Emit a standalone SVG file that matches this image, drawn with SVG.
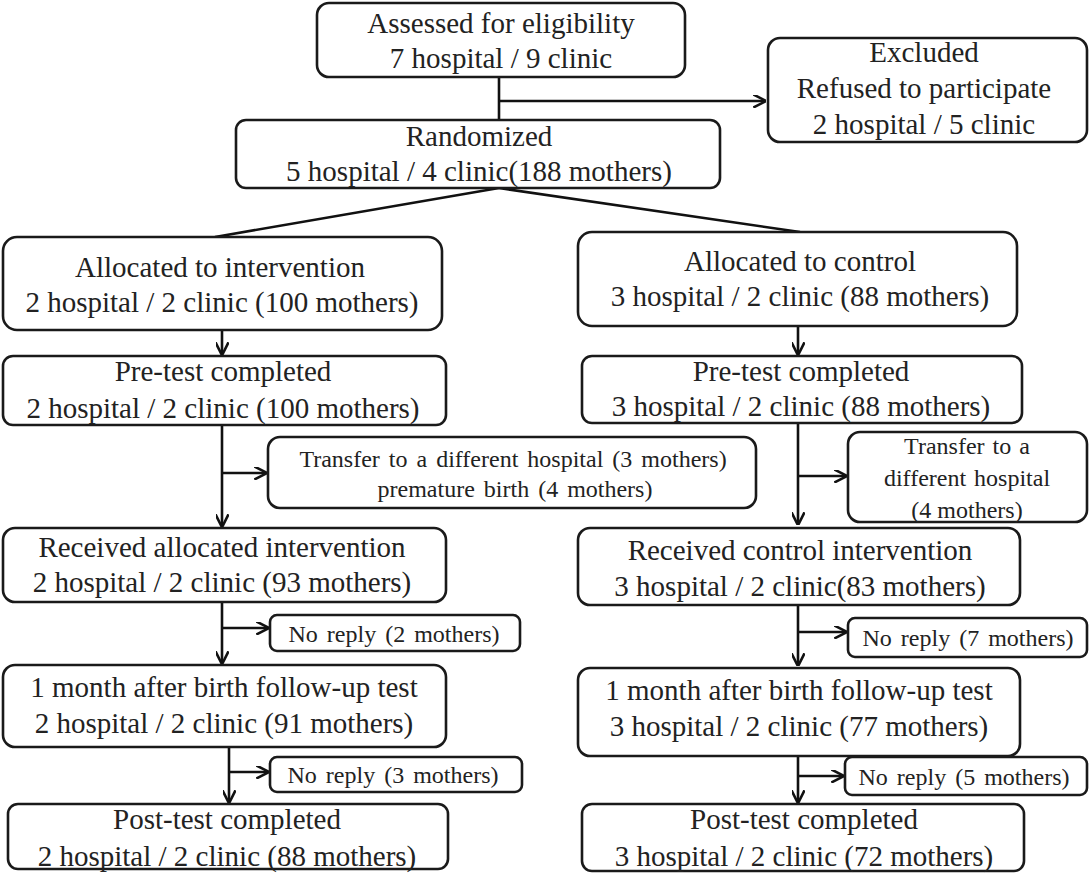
<svg xmlns="http://www.w3.org/2000/svg" width="1092" height="873" viewBox="0 0 1092 873">
<style>
.box{fill:#fff;stroke:#1a1a1a;stroke-width:2.6}
.t{font-size:29px;fill:#222;text-anchor:middle}
.s{font-size:24px;fill:#222;text-anchor:middle}
.c{stroke:#111;stroke-width:2.6;fill:none}
</style>
<defs>
<marker id="ah" viewBox="0 0 10 10" refX="9" refY="5" markerWidth="5" markerHeight="5" orient="auto" markerUnits="strokeWidth">
<path d="M0,0 L10,5 L0,10" fill="none" stroke="#111" stroke-width="2"/>
</marker>
</defs>
<rect width="1092" height="873" fill="#fff"/>
<g id="connectors">
<path class="c" d="M499,77 V120"/>
<path class="c" d="M499,101 H765" marker-end="url(#ah)"/>
<path class="c" d="M499,188 L215,237"/>
<path class="c" d="M499,188 L800,232"/>
<path class="c" d="M222,330 V354" marker-end="url(#ah)"/>
<path class="c" d="M222,425 V526" marker-end="url(#ah)"/>
<path class="c" d="M222,473 H266" marker-end="url(#ah)"/>
<path class="c" d="M222,602 V663" marker-end="url(#ah)"/>
<path class="c" d="M222,628 H268" marker-end="url(#ah)"/>
<path class="c" d="M229,747 V802" marker-end="url(#ah)"/>
<path class="c" d="M229,772 H268" marker-end="url(#ah)"/>
<path class="c" d="M798,326 V354" marker-end="url(#ah)"/>
<path class="c" d="M798,423 V524" marker-end="url(#ah)"/>
<path class="c" d="M798,476 H846" marker-end="url(#ah)"/>
<path class="c" d="M798,605 V665" marker-end="url(#ah)"/>
<path class="c" d="M798,632 H846" marker-end="url(#ah)"/>
<path class="c" d="M798,756 V802" marker-end="url(#ah)"/>
<path class="c" d="M798,776 H843" marker-end="url(#ah)"/>
</g>
<g font-family="Liberation Serif, serif">
<g id="assessed"><rect class="box" x="317" y="3" width="368" height="74" rx="12"/>
<text class="t" x="501" y="33">Assessed for eligibility</text><text class="t" x="501" y="68">7 hospital / 9 clinic</text></g>
<g id="excluded"><rect class="box" x="768" y="38" width="319" height="104" rx="12"/>
<text class="t" x="924" y="62">Excluded</text><text class="t" x="924" y="98">Refused to participate</text><text class="t" x="924" y="134">2 hospital / 5 clinic</text></g>
<g id="randomized"><rect class="box" x="236" y="120" width="484" height="68" rx="10"/>
<text class="t" x="479" y="146">Randomized</text><text class="t" x="479" y="181">5 hospital / 4 clinic(188 mothers)</text></g>
<g id="alloc-int"><rect class="box" x="3" y="237" width="439" height="93" rx="14"/>
<text class="t" x="220" y="277">Allocated to intervention</text><text class="t" x="222" y="312">2 hospital / 2 clinic (100 mothers)</text></g>
<g id="alloc-ctl"><rect class="box" x="578" y="232" width="439" height="94" rx="14"/>
<text class="t" x="800" y="271">Allocated to control</text><text class="t" x="800" y="306">3 hospital / 2 clinic (88 mothers)</text></g>
<g id="pre-int"><rect class="box" x="3" y="356" width="443" height="69" rx="10"/>
<text class="t" x="223" y="381">Pre-test completed</text><text class="t" x="223" y="418">2 hospital / 2 clinic (100 mothers)</text></g>
<g id="pre-ctl"><rect class="box" x="582" y="356" width="440" height="67" rx="10"/>
<text class="t" x="801" y="381">Pre-test completed</text><text class="t" x="801" y="416">3 hospital / 2 clinic (88 mothers)</text></g>
<g id="transfer-int"><rect class="box" x="268" y="437" width="488" height="71" rx="12"/>
<text class="s" x="513" y="467" word-spacing="3">Transfer  to a different hospital (3 mothers)</text><text class="s" x="515" y="497" word-spacing="3">premature birth (4 mothers)</text></g>
<g id="transfer-ctl"><rect class="box" x="848" y="432" width="239" height="90" rx="12"/>
<text class="s" x="967" y="454" word-spacing="2">Transfer  to a</text><text class="s" x="967" y="486" word-spacing="2">different hospital</text><text class="s" x="967" y="518">(4 mothers)</text></g>
<g id="recv-int"><rect class="box" x="3" y="528" width="443" height="74" rx="12"/>
<text class="t" x="222" y="557">Received allocated intervention</text><text class="t" x="222" y="592">2 hospital / 2 clinic (93 mothers)</text></g>
<g id="recv-ctl"><rect class="box" x="578" y="528" width="442" height="77" rx="12"/>
<text class="t" x="800" y="560">Received control intervention</text><text class="t" x="800" y="596">3 hospital / 2 clinic(83 mothers)</text></g>
<g id="noreply-int-1"><rect class="box" x="270" y="615" width="250" height="36" rx="7"/>
<text class="s" x="394" y="642" word-spacing="3">No reply  (2 mothers)</text></g>
<g id="noreply-ctl-1"><rect class="box" x="848" y="618" width="239" height="39" rx="7"/>
<text class="s" x="968" y="646" word-spacing="3">No reply  (7 mothers)</text></g>
<g id="month-int"><rect class="box" x="3" y="665" width="443" height="82" rx="12"/>
<text class="t" x="224" y="697">1 month after birth follow-up test</text><text class="t" x="224" y="733">2 hospital / 2 clinic (91 mothers)</text></g>
<g id="month-ctl"><rect class="box" x="578" y="668" width="442" height="88" rx="12"/>
<text class="t" x="799" y="700">1 month after birth follow-up test</text><text class="t" x="799" y="736">3 hospital / 2 clinic (77 mothers)</text></g>
<g id="noreply-int-2"><rect class="box" x="270" y="757" width="252" height="35" rx="7"/>
<text class="s" x="393" y="783" word-spacing="3">No reply  (3 mothers)</text></g>
<g id="noreply-ctl-2"><rect class="box" x="845" y="757" width="242" height="38" rx="7"/>
<text class="s" x="964" y="785" word-spacing="3">No reply  (5 mothers)</text></g>
<g id="post-int"><rect class="box" x="8" y="804" width="440" height="65" rx="10"/>
<text class="t" x="227" y="829">Post-test completed</text><text class="t" x="227" y="866">2 hospital / 2 clinic (88 mothers)</text></g>
<g id="post-ctl"><rect class="box" x="582" y="804" width="442" height="67" rx="10"/>
<text class="t" x="804" y="829">Post-test completed</text><text class="t" x="804" y="866">3 hospital / 2 clinic (72 mothers)</text></g>
</g>
</svg>
